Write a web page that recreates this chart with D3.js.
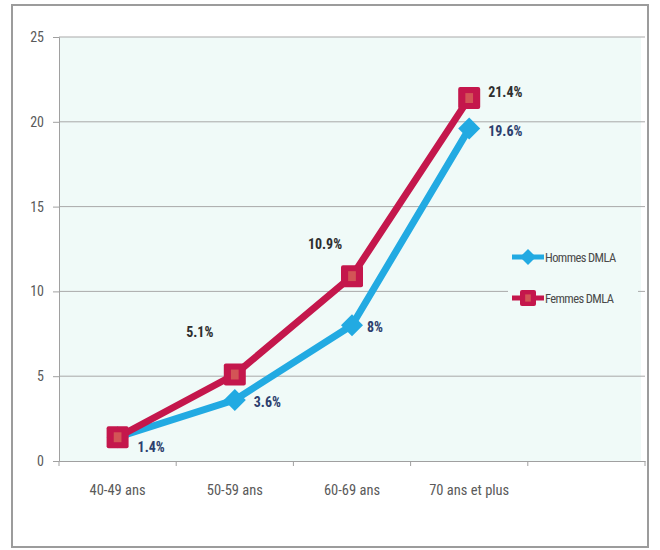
<!DOCTYPE html>
<html>
<head>
<meta charset="utf-8">
<script src="https://cdn.jsdelivr.net/npm/d3@7"></script>
<style>
  html, body { margin: 0; padding: 0; background: #ffffff; }
  svg { display: block; }
</style>
</head>
<body>
<svg id="chart" width="660" height="550"></svg>
<script>
// Prévalence de la DMLA par tranche d'âge
const categories = ["40-49 ans", "50-59 ans", "60-69 ans", "70 ans et plus"];
const hommes = [1.4, 3.6, 8, 19.6];
const femmes = [1.4, 5.1, 10.9, 21.4];
const hommesLabels = ["1.4%", "3.6%", "8%", "19.6%"];
const femmesLabels = [null, "5.1%", "10.9%", "21.4%"];
const yTicks = [0, 5, 10, 15, 20, 25];
const seriesNames = ["Hommes DMLA", "Femmes DMLA"];

const BLUE = "#22aae2";
const RED = "#c4174c";
const FONT = "'Liberation Sans Narrow', 'Arial Narrow', 'Roboto Condensed', sans-serif";

const svg = d3.select("#chart");

// outer frame
svg.append("rect")
  .attr("x", 12).attr("y", 5).attr("width", 636).attr("height", 542)
  .attr("fill", "#ffffff").attr("stroke", "#9c9c9c").attr("stroke-width", 2);

const plot = { left: 59, right: 645, top: 37, bottom: 461 };

// one empty slot after the last age group
const x = d3.scaleBand()
  .domain([...categories, ""])
  .range([plot.left, plot.right]);
const y = d3.scaleLinear().domain([0, 25]).range([plot.bottom, plot.top]);

// plot area
svg.append("rect")
  .attr("x", plot.left).attr("y", plot.top)
  .attr("width", plot.right - plot.left - 4).attr("height", plot.bottom - plot.top)
  .attr("fill", "#f0faf8");

// horizontal gridlines
svg.append("g")
  .selectAll("line")
  .data(yTicks.filter(d => d > 0))
  .join("line")
  .attr("x1", plot.left).attr("x2", plot.right)
  .attr("y1", d => y(d)).attr("y2", d => y(d))
  .attr("stroke", "#a9a9a9").attr("stroke-width", 1);

// y axis
const yAxis = svg.append("g")
  .attr("transform", `translate(${plot.left},0)`)
  .call(d3.axisLeft(y).tickValues(yTicks).tickSize(6).tickPadding(9));
yAxis.select(".domain").attr("stroke", "#a0a0a0");
yAxis.selectAll(".tick line").attr("stroke", "#a0a0a0");
yAxis.selectAll("text")
  .attr("fill", "#5a5a5a").style("font-family", FONT).style("font-size", "14px");

// x axis with tick marks at band boundaries
const xAxis = svg.append("g")
  .attr("transform", `translate(0,${plot.bottom})`)
  .call(d3.axisBottom(x).tickSize(0).tickPadding(24));
xAxis.select(".domain").attr("stroke", "#a0a0a0");
xAxis.selectAll("text")
  .attr("fill", "#5a5a5a").style("font-family", FONT).style("font-size", "14.5px");
const boundaries = [...x.domain().map(d => x(d)), plot.right];
svg.append("g").selectAll("line")
  .data(boundaries)
  .join("line")
  .attr("x1", d => d).attr("x2", d => d)
  .attr("y1", plot.bottom).attr("y2", plot.bottom + 5)
  .attr("stroke", "#a0a0a0");

const cx = (d, i) => x(categories[i]) + x.bandwidth() / 2;

const line = d3.line()
  .x((d, i) => cx(d, i))
  .y(d => y(d));

function diamond(g, size) {
  g.append("path")
    .attr("d", `M0,${-size}L${size},0L0,${size}L${-size},0Z`)
    .attr("fill", BLUE);
}
function square(g, size) {
  g.append("rect")
    .attr("x", -size).attr("y", -size).attr("width", size * 2).attr("height", size * 2)
    .attr("rx", 2).attr("fill", RED);
  g.append("rect")
    .attr("x", -size * 0.35).attr("y", -size * 0.45).attr("width", size * 0.7).attr("height", size * 0.9)
    .attr("fill", "#d86a5a").attr("opacity", 0.75);
}

// Hommes
svg.append("path")
  .datum(hommes)
  .attr("d", line)
  .attr("fill", "none").attr("stroke", BLUE).attr("stroke-width", 7)
  .attr("stroke-linejoin", "round");
hommes.forEach((v, i) => {
  const g = svg.append("g").attr("transform", `translate(${cx(v, i)},${y(v)})`);
  diamond(g, 11);
});

// Femmes
svg.append("path")
  .datum(femmes)
  .attr("d", line)
  .attr("fill", "none").attr("stroke", RED).attr("stroke-width", 7)
  .attr("stroke-linejoin", "round");
femmes.forEach((v, i) => {
  const g = svg.append("g").attr("transform", `translate(${cx(v, i)},${y(v)})`);
  square(g, 11);
});

// value labels
const labelStyle = sel => sel
  .style("font-family", FONT).style("font-size", "14px").style("font-weight", "bold");

hommes.forEach((v, i) => {
  const dx = i === 0 ? 20 : (i === 2 ? 15 : 19);
  svg.append("text")
    .attr("x", cx(v, i) + dx).attr("y", y(v) + (i === 0 ? 15 : 7))
    .attr("fill", "#2d3f6e")
    .text(hommesLabels[i])
    .call(labelStyle);
});

femmes.forEach((v, i) => {
  if (!femmesLabels[i]) return;
  const last = i === femmes.length - 1;
  svg.append("text")
    .attr("x", last ? cx(v, i) + 19 : cx(v, i) - (i === 1 ? 35 : 27))
    .attr("y", last ? y(v) - 1 : y(v) - (i === 1 ? 38 : 27))
    .attr("text-anchor", last ? "start" : "middle")
    .attr("fill", "#2e2e2e")
    .text(femmesLabels[i])
    .call(labelStyle);
});

// legend
const legend = svg.append("g").attr("transform", "translate(510,240)");
legend.append("rect")
  .attr("x", -2).attr("y", 0).attr("width", 130).attr("height", 75)
  .attr("fill", "#f0faf8");
seriesNames.forEach((name, i) => {
  const ly = 17 + i * 41;
  const g = legend.append("g").attr("transform", `translate(0,${ly})`);
  g.append("line")
    .attr("x1", 2).attr("x2", 34).attr("y1", 0).attr("y2", 0)
    .attr("stroke", i === 0 ? BLUE : RED).attr("stroke-width", 5);
  const m = g.append("g").attr("transform", "translate(18,0)");
  if (i === 0) diamond(m, 8); else square(m, 8);
  g.append("text")
    .attr("x", 35).attr("y", 5)
    .attr("fill", "#4a4a4a")
    .style("font-family", FONT).style("font-size", "12.5px")
    .style("letter-spacing", "-0.6px")
    .text(name);
});
</script>
</body>
</html>
